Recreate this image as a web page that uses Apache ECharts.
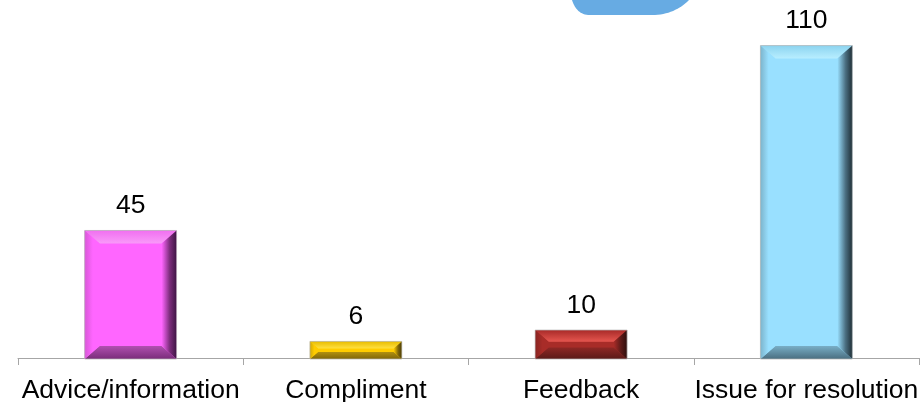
<!DOCTYPE html>
<html><head><meta charset="utf-8">
<style>html,body{margin:0;padding:0;background:#fff}#c{width:921px;height:402px}</style>
<script src="https://cdn.jsdelivr.net/npm/echarts@6/dist/echarts.min.js"></script>
</head><body><div id="c"></div>
<script>
const categories = ['Advice/information','Compliment','Feedback','Issue for resolution'];
const values = [45, 6, 10, 110];
const faces = ['#FF66FF','#FFCC00','#A82C28','#99E0FF'];
const tops = ['#F99AF9','#FFE040','#E5564F','#B8EEFF'];
const topEdges = ['#F070F0','#E8BC00','#A82A28','#8CD4F0'];
const bottomInner = ['#B050B0','#B09010','#8E2825','#78AEC6'];
const bottoms = ['#7A2C7A','#806608','#5A1A18','#4A6E80'];
const rights = ['#3E1444','#4A3C08','#2E0E0C','#1E2E36'];
const lefts = ['#D858D8','#D0A808','#8A2522','#7CB4CC'];
const chart = echarts.init(document.getElementById('c'), null, {renderer:'canvas'});
function grad(x1,y1,x2,y2,a,b,c){
  const stops = c ? [{offset:0,color:a},{offset:0.55,color:b},{offset:1,color:c}] : [{offset:0,color:a},{offset:1,color:b}];
  return new echarts.graphic.LinearGradient(x1,y1,x2,y2,stops);
}
function blobPoints(){
  const pts=[];
  const curve=(p0,p1,p2,p3)=>{for(let k=0;k<=16;k++){const t=k/16,u=1-t;
    pts.push([u*u*u*p0[0]+3*u*u*t*p1[0]+3*u*t*t*p2[0]+t*t*t*p3[0],u*u*u*p0[1]+3*u*u*t*p1[1]+3*u*t*t*p2[1]+t*t*t*p3[1]]);}};
  curve([572,0],[575,9],[580,15],[590,15]);
  curve([652,15],[668,15],[680,9],[689,0]);
  return pts;
}
chart.setOption({
  animation:false,
  grid:{left:18,right:2,top:16.6,bottom:44,outerBoundsMode:'none'},
  xAxis:{type:'category',data:categories,
    axisLine:{show:true,lineStyle:{color:'#A6A6A6',width:1}},
    axisTick:{show:true,length:7,lineStyle:{color:'#A6A6A6',width:1}},
    axisLabel:{color:'#000',fontFamily:'Liberation Sans',fontSize:26.5,margin:18,interval:0,lineHeight:30}},
  yAxis:{type:'value',min:0,max:120,show:false,splitLine:{show:false}},
  graphic:[{type:'polygon',silent:true,z:10,
    shape:{points:blobPoints()},
    style:{fill:'#67ABE3'}}],
  series:[{type:'custom',
    data:values.map((v,i)=>[i,v]),
    encode:{x:0,y:1},
    renderItem(params,api){
      const i=api.value(0), v=api.value(1);
      const top=api.coord([i,v]), base=api.coord([i,0]);
      const w=api.size([1,0])[0]*0.408;
      const x0=top[0]-w/2, x1=top[0]+w/2, y0=top[1]+0.5, y1=base[1]+1;
      const h=y1-y0;
      const by=Math.min(13,h*0.4), bx=by*1.15;
      const idx=params.dataIndex;
      const poly=(pts,fill)=>({type:'polygon',shape:{points:pts},style:{fill:fill,stroke:null}});
      return {type:'group',children:[
        {type:'rect',shape:{x:x0,y:y0,width:w,height:h},style:{fill:faces[idx]}},
        poly([[x0,y0],[x1,y0],[x1-bx,y0+by],[x0+bx,y0+by]],grad(0,0,0,1,topEdges[idx],tops[idx])),
        poly([[x0,y1],[x1,y1],[x1-bx,y1-by],[x0+bx,y1-by]],grad(0,0,0,1,bottomInner[idx],bottoms[idx])),
        poly([[x0,y0],[x0+bx,y0+by],[x0+bx,y1-by],[x0,y1]],grad(0,0,1,0,lefts[idx],faces[idx],faces[idx])),
        poly([[x1,y0],[x1-bx,y0+by],[x1-bx,y1-by],[x1,y1]],grad(0,0,1,0,faces[idx],bottoms[idx],rights[idx])),
        {type:'rect',shape:{x:x0,y:y0,width:w,height:h},style:{fill:'none',stroke:'#B5B5B5',lineWidth:1,opacity:0.7}},
        {type:'text',style:{x:top[0],y:y0-11,text:String(v),fill:'#000',font:'26.5px "Liberation Sans"',align:'center',verticalAlign:'bottom'}}
      ]};
    }
  }]
});
</script></body></html>
